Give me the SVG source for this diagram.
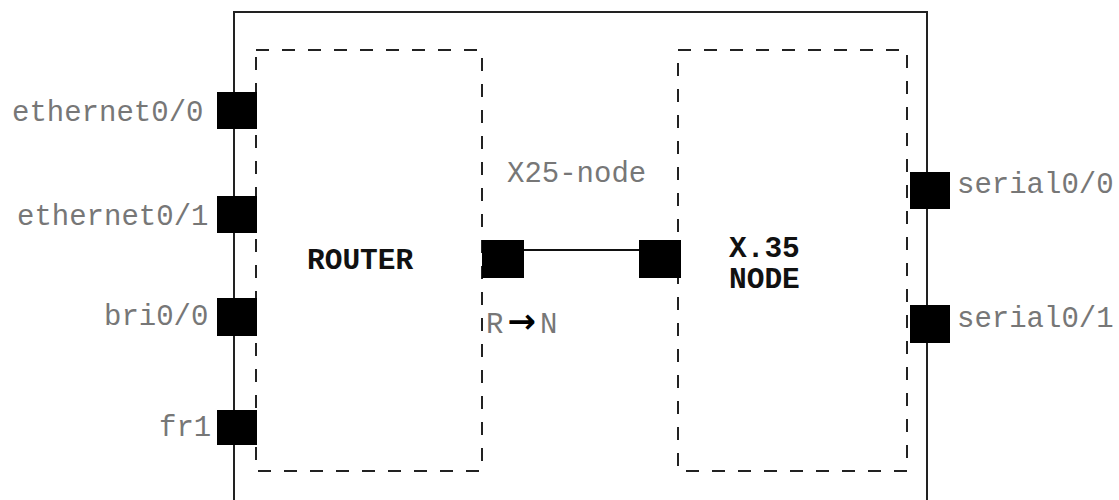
<svg xmlns="http://www.w3.org/2000/svg" width="1119" height="500" viewBox="0 0 1119 500">
<style>
.lbl{font-family:"Liberation Mono","Courier New",monospace;font-size:29px;fill:#777}
.bold{font-family:"Liberation Mono","Courier New",monospace;font-size:29.5px;font-weight:bold;fill:#111}
.dash{fill:none;stroke:#222;stroke-width:2;stroke-dasharray:13 13}
.port{fill:#000}
.solid{fill:none;stroke:#222;stroke-width:2}
</style>
<rect width="1119" height="500" fill="#fff"/>
<g id="outer">
<rect class="solid" x="234" y="12" width="693" height="520"/>
</g>
<g id="router">
<rect class="dash" x="256" y="50" width="226" height="421"/>
<text class="bold" x="307" y="269">ROUTER</text>
</g>
<g id="x35node">
<rect class="dash" x="678" y="50" width="229" height="421"/>
<text class="bold" x="729" y="257">X.35</text>
<text class="bold" x="729" y="288">NODE</text>
</g>
<g id="connectors">
<line x1="524" y1="250" x2="639" y2="250" stroke="#111" stroke-width="2"/>
</g>
<g id="port-eth00"><rect class="port" x="217" y="92" width="40" height="37"/><text class="lbl" x="12" y="121">ethernet0/0</text></g>
<g id="port-eth01"><rect class="port" x="217" y="196" width="40" height="37"/><text class="lbl" x="17" y="225">ethernet0/1</text></g>
<g id="port-bri00"><rect class="port" x="217" y="298" width="40" height="38"/><text class="lbl" x="104" y="325">bri0/0</text></g>
<g id="port-fr1"><rect class="port" x="217" y="410" width="40" height="35"/><text class="lbl" x="159" y="436">fr1</text></g>
<g id="port-ser00"><rect class="port" x="910" y="172" width="40" height="37"/><text class="lbl" x="957" y="193">serial0/0</text></g>
<g id="port-ser01"><rect class="port" x="910" y="305" width="40" height="38"/><text class="lbl" x="957" y="327">serial0/1</text></g>
<g id="port-router-x25"><rect class="port" x="482" y="240" width="42" height="38"/></g>
<g id="port-node-x25"><rect class="port" x="639" y="240" width="42" height="38"/></g>
<g id="x25-label"><text class="lbl" x="507" y="182">X25-node</text></g>
<g id="rn-label"><text class="lbl" x="486" y="333">R<tspan fill="#000" font-family="DejaVu Sans,sans-serif" font-size="34" font-weight="bold" dx="4">→</tspan><tspan dx="4">N</tspan></text></g>
</svg>
